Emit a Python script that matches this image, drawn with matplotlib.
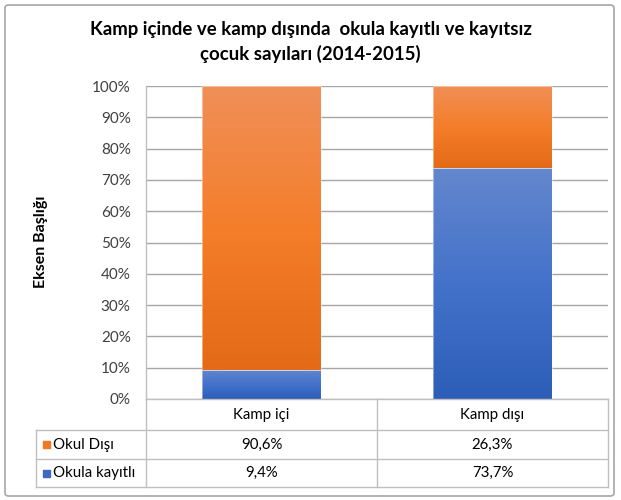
import matplotlib
matplotlib.use("Agg")
import matplotlib.pyplot as plt
import numpy as np
from matplotlib.colors import LinearSegmentedColormap
from matplotlib.patches import FancyBboxPatch, Rectangle

plt.rcParams['font.family'] = ['Lato', 'DejaVu Sans']

categories = ["Kamp içi", "Kamp dışı"]
series_names = ["Okul Dışı", "Okula kayıtlı"]
okul_disi = [90.6, 26.3]
okula_kayitli = [9.4, 73.7]
yticks = [0, 10, 20, 30, 40, 50, 60, 70, 80, 90, 100]
title = "Kamp içinde ve kamp dışında  okula kayıtlı ve kayıtsız\nçocuk sayıları (2014-2015)"
ylabel = "Eksen Başlığı"

W, H = 621, 500
fig = plt.figure(figsize=(W / 100, H / 100), dpi=100)

def fx(px):
    return px / W

def fy(py):
    return 1 - py / H

# outer frame
frame = FancyBboxPatch((fx(5), fy(496)), fx(609), (496 - 5) / H,
                       boxstyle="round,pad=0,rounding_size=0.006",
                       transform=fig.transFigure, fill=False,
                       edgecolor="#A6A6A6", linewidth=1.2)
fig.patches.append(frame)

left, right, top, bottom = 146, 608, 86, 399
ax = fig.add_axes([fx(left), fy(bottom), fx(right - left), (bottom - top) / H])
ax.set_xlim(-0.5, 1.5)
ax.set_ylim(0, 100)

orange_cmap = LinearSegmentedColormap.from_list("o", ["#E46A17", "#F47E2A", "#F08F58"])
blue_cmap = LinearSegmentedColormap.from_list("b", ["#2C5EB8", "#4472CA", "#6387CD"])

x = np.arange(len(categories))
bw = 0.515
b1 = ax.bar(x, okula_kayitli, width=bw, color="none", edgecolor="none")
b2 = ax.bar(x, okul_disi, bottom=okula_kayitli, width=bw, color="none", edgecolor="none")

grad = np.linspace(0, 1, 256).reshape(-1, 1)
for bars, cmap in ((b1, blue_cmap), (b2, orange_cmap)):
    for p in bars:
        x0, y0 = p.get_x(), p.get_y()
        w, h = p.get_width(), p.get_height()
        im = ax.imshow(grad, extent=(x0, x0 + w, y0, y0 + h), origin="lower",
                       cmap=cmap, aspect="auto", zorder=2)
        im.set_clip_path(p)
        ax.add_patch(Rectangle((x0, y0), w, h, fill=False, edgecolor="#FFFFFF",
                               linewidth=0.6, alpha=0.5, zorder=3))
ax.set_xlim(-0.5, 1.5)
ax.set_ylim(0, 100)

ax.set_yticks(yticks)
ax.set_yticklabels([f"{v}%" for v in yticks], fontsize=11, color="#404040")
ax.tick_params(axis="y", length=0, pad=11)
ax.set_xticks([])
ax.grid(axis="y", color="#A6A6A6", linewidth=1.0, zorder=0)
ax.set_axisbelow(True)
for s in ["top", "right", "bottom"]:
    ax.spines[s].set_visible(False)
ax.spines["left"].set_color("#BFBFBF")
ax.spines["left"].set_linewidth(1.0)

fig.text(0.5, fy(30), title.split("\n")[0], ha="center", va="center",
         fontsize=13.4, fontweight="bold", color="#000000")
fig.text(0.5, fy(54), title.split("\n")[1], ha="center", va="center",
         fontsize=13.4, fontweight="bold", color="#000000")
fig.text(fx(41), fy(242), ylabel, rotation=90, ha="center", va="center",
         fontsize=11.5, fontweight="bold", color="#000000")

# data table
tab = fig.add_axes([0, 0, 1, 1], facecolor="none")
tab.set_xlim(0, W)
tab.set_ylim(H, 0)
tab.axis("off")
lc = "#BFBFBF"
tl = 36
rows_y = [399, 430, 459, 487]
mid = (left + right) / 2
col_edges = [left, mid, right]
tab.plot([left, left], [rows_y[0], rows_y[3]], color=lc, lw=1.0)
tab.plot([mid, mid], [rows_y[0], rows_y[3]], color=lc, lw=1.0)
tab.plot([right, right], [rows_y[0], rows_y[3]], color=lc, lw=1.0)
tab.plot([left, right], [rows_y[0], rows_y[0]], color=lc, lw=1.0)
for yy in rows_y[1:]:
    tab.plot([tl, right], [yy, yy], color=lc, lw=1.0)
tab.plot([tl, tl], [rows_y[1], rows_y[3]], color=lc, lw=1.0)

for i, c in enumerate(categories):
    cx = (col_edges[i] + col_edges[i + 1]) / 2
    tab.text(cx, (rows_y[0] + rows_y[1]) / 2, c, ha="center", va="center",
             fontsize=10.8, color="#000000")

series_vals = [okul_disi, okula_kayitli]
series_cols = ["#F07A24", "#3D69C2"]
for r, (name, vals, col) in enumerate(zip(series_names, series_vals, series_cols)):
    cy = (rows_y[r + 1] + rows_y[r + 2]) / 2
    tab.add_patch(Rectangle((tl + 7, cy - 3.5), 7, 7, color=col))
    tab.text(tl + 17, cy, name, ha="left", va="center", fontsize=10.8, color="#000000")
    for i, v in enumerate(vals):
        cx = (col_edges[i] + col_edges[i + 1]) / 2
        tab.text(cx, cy, f"{v:.1f}%".replace(".", ","), ha="center", va="center",
                 fontsize=10.8, color="#000000")

fig.savefig("out.png", dpi=100)
